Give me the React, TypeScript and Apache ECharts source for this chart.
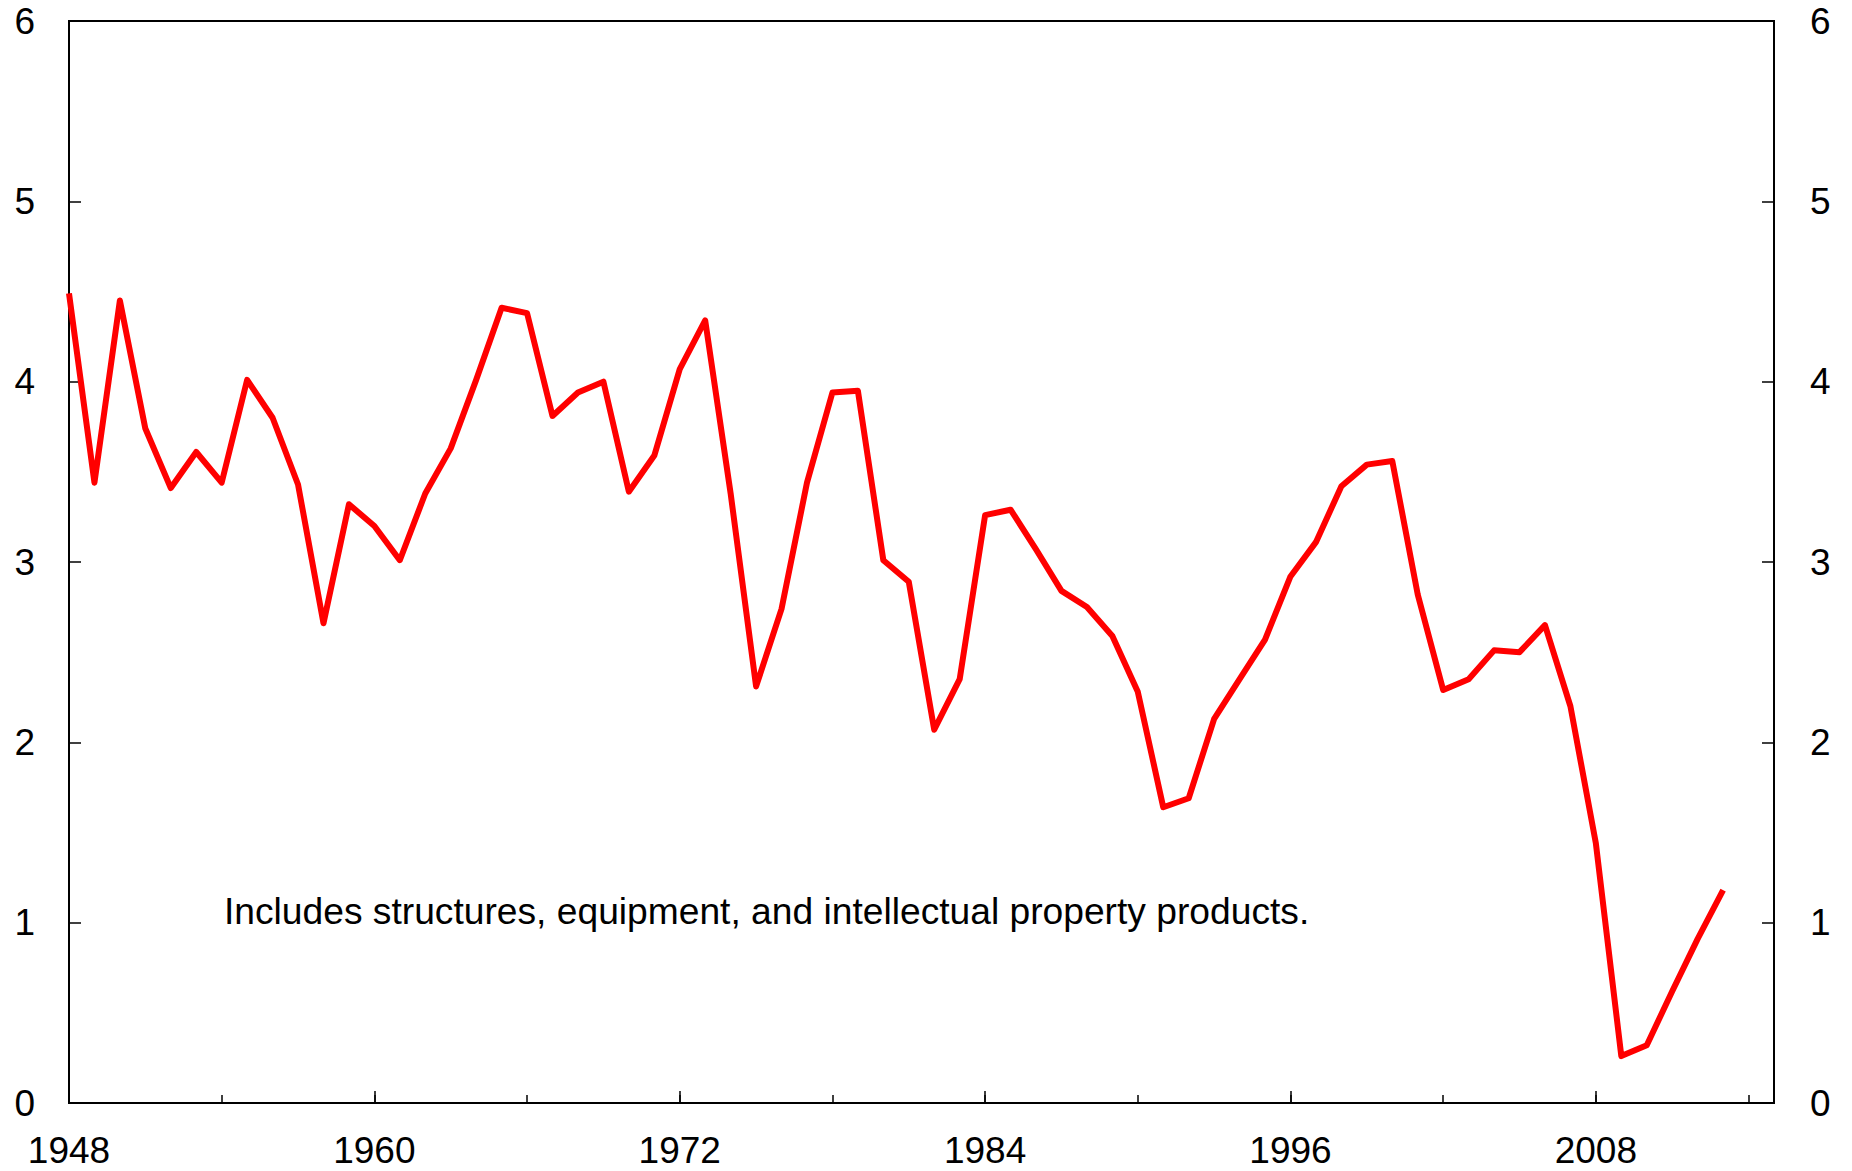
import React, { useEffect, useRef } from "react";
import * as echarts from "echarts";

const years: string[] = [];
for (let y = 1948; y <= 2015; y++) years.push(String(y));

const values: number[] = [
  4.49, 3.44, 4.45, 3.74, 3.41, 3.61, 3.44, 4.01, 3.8, 3.43,
  2.66, 3.32, 3.2, 3.01, 3.38, 3.63, 4.01, 4.41, 4.38, 3.81,
  3.94, 4.0, 3.39, 3.59, 4.07, 4.34, 3.38, 2.31, 2.74, 3.44,
  3.94, 3.95, 3.01, 2.89, 2.07, 2.35, 3.26, 3.29, 3.07, 2.84,
  2.75, 2.59, 2.28, 1.64, 1.69, 2.13, 2.35, 2.57, 2.92, 3.11,
  3.42, 3.54, 3.56, 2.82, 2.29, 2.35, 2.51, 2.5, 2.65, 2.2,
  1.44, 0.26, 0.32, 0.62, 0.91, 1.18,
];

const yTicks = [0, 1, 2, 3, 4, 5, 6];
const note = "Includes structures, equipment, and intellectual property products.";

const FONT = "'Liberation Sans', Arial, Helvetica, sans-serif";

export default function App() {
  const ref = useRef<HTMLDivElement>(null);
  useEffect(() => {
    if (!ref.current) return;
    const chart = echarts.init(ref.current, undefined, { renderer: "svg" });
    const axisLabelBase = { color: "#000", fontSize: 37, fontFamily: FONT };
    chart.setOption({
      animation: false,
      backgroundColor: "#fff",
      grid: {
        left: 69,
        right: 78,
        top: 21,
        bottom: 68,
        show: true,
        borderColor: "#000",
        borderWidth: 2,
        backgroundColor: "transparent",
      },
      xAxis: [
        {
          type: "category",
          data: years,
          boundaryGap: false,
          position: "bottom",
          axisLine: { show: true, onZero: false, lineStyle: { color: "#000", width: 2 } },
          axisTick: { show: true, inside: true, length: 8, interval: 5, lineStyle: { color: "#000", width: 1.5 } },
          axisLabel: { ...axisLabelBase, interval: 11, margin: 29 },
          splitLine: { show: false },
        },
        {
          type: "category",
          data: years,
          boundaryGap: false,
          position: "bottom",
          axisLine: { show: false },
          axisTick: { show: true, inside: true, length: 12, interval: 11, lineStyle: { color: "#000", width: 1.5 } },
          axisLabel: { show: false },
          splitLine: { show: false },
        },
      ],
      yAxis: [
        {
          type: "value",
          min: yTicks[0],
          max: yTicks[yTicks.length - 1],
          interval: 1,
          position: "left",
          axisLine: { show: true, lineStyle: { color: "#000", width: 2 } },
          axisTick: { show: true, inside: true, length: 12, lineStyle: { color: "#000", width: 1.5 } },
          axisLabel: { ...axisLabelBase, margin: 34 },
          splitLine: { show: false },
        },
        {
          type: "value",
          min: yTicks[0],
          max: yTicks[yTicks.length - 1],
          interval: 1,
          position: "right",
          axisLine: { show: true, lineStyle: { color: "#000", width: 2 } },
          axisTick: { show: true, inside: true, length: 12, lineStyle: { color: "#000", width: 1.5 } },
          axisLabel: { ...axisLabelBase, margin: 36 },
          splitLine: { show: false },
        },
      ],
      series: [
        {
          type: "line",
          xAxisIndex: 0,
          yAxisIndex: 0,
          data: values,
          showSymbol: false,
          symbol: "none",
          lineStyle: { color: "#ff0000", width: 6, join: "round" },
          itemStyle: { color: "#ff0000" },
        },
      ],
      graphic: [
        {
          type: "text",
          x: 224,
          y: 911,
          style: {
            text: note,
            fill: "#000",
            fontSize: 37.2,
            fontFamily: FONT,
            verticalAlign: "middle",
            align: "left",
          },
        },
      ],
    });
    return () => chart.dispose();
  }, []);
  return (
    <div
      ref={ref}
      style={{ position: "fixed", left: 0, top: 0, width: 1852, height: 1171 }}
    />
  );
}
